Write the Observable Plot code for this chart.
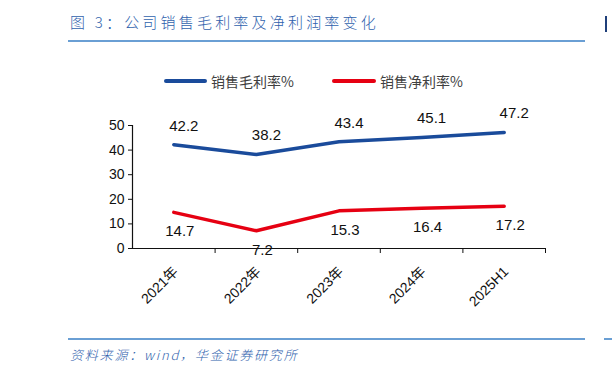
<!DOCTYPE html>
<html><head><meta charset="utf-8">
<script src="https://cdn.jsdelivr.net/npm/d3@7"></script>
<script src="https://cdn.jsdelivr.net/npm/@observablehq/plot@0.6"></script>
<style>
body{margin:0;background:#fff;width:612px;height:375px;position:relative;overflow:hidden;font-family:"Liberation Sans",Arial,sans-serif;}
.abs{position:absolute;}
#title{left:70px;top:11px;font-family:"Noto Sans CJK SC",sans-serif;font-weight:300;font-size:15px;color:#2f62ad;letter-spacing:3.2px;white-space:nowrap;}
#tline{left:68px;top:40px;width:517px;height:2px;background:#6a9fd4;}
#bline{left:68px;top:338px;width:517px;height:2px;background:#6a9fd4;}
#caption{left:70px;top:345px;font-family:"Noto Sans CJK SC",sans-serif;font-weight:300;font-size:13px;color:#2f62ad;font-style:italic;letter-spacing:1.8px;white-space:nowrap;}
.lg{font-family:"Noto Sans CJK SC",sans-serif;font-size:14px;color:#404040;white-space:nowrap;}
.sw{height:4px;border-radius:2px;}
#chart{left:0;top:95px;}
</style></head>
<body>
<div id="title" class="abs">图 3：公司销售毛利率及净利润率变化</div>
<div id="tline" class="abs"></div>
<div class="abs" style="left:605px;top:16px;width:2px;height:16px;background:#1f3f7a"></div>
<div class="abs" style="left:604px;top:338px;width:8px;height:2px;background:#6a9fd4"></div>
<div class="abs sw" style="left:164px;top:79px;width:43px;background:#1a4b9b"></div>
<div class="abs lg" style="left:211px;top:71px">销售毛利率%</div>
<div class="abs sw" style="left:332px;top:79px;width:44px;background:#e60012"></div>
<div class="abs lg" style="left:380px;top:71px">销售净利率%</div>
<div id="chart" class="abs"></div>
<div id="bline" class="abs"></div>
<div id="caption" class="abs">资料来源：wind，华金证券研究所</div>
<script>
const categories = ["2021年","2022年","2023年","2024年","2025H1"];
const grossMargin = [42.2, 38.2, 43.4, 45.1, 47.2];
const netMargin = [14.7, 7.2, 15.3, 16.4, 17.2];
const yTicks = [0,10,20,30,40,50];

const gross = categories.map((c,i)=>({i, v: grossMargin[i]}));
const net = categories.map((c,i)=>({i, v: netMargin[i]}));
const idx = categories.map((c,i)=>i);
const bounds = categories.map((c,i)=>i+0.5);

const chart = Plot.plot({
  width: 612, height: 235,
  marginTop: 30, marginBottom: 82, marginLeft: 132, marginRight: 67,
  style: {fontFamily: '"Liberation Sans", Arial, sans-serif', color: "#111", background: "transparent"},
  x: {type: "linear", domain: [-0.5, categories.length - 0.5]},
  y: {domain: [0, 50]},
  marks: [
    Plot.axisY({ticks: yTicks, tickSize: 4, tickFormat: d=>d, fontSize: 14, tickPadding: 4, label: null}),
    Plot.ruleX([-0.5], {y1: 0, y2: 50, stroke: "#111", strokeWidth: 1.2}),
    Plot.ruleY([0], {stroke: "#111", strokeWidth: 1.2}),
    Plot.axisX({ticks: bounds, tickSize: 5, tickFormat: () => "", label: null}),
    Plot.axisX({ticks: idx, tickSize: 0, tickFormat: i => categories[i], tickRotate: -45, fontSize: 14, fontFamily: '"Liberation Sans", "Noto Sans CJK SC", sans-serif', dy: 9, dx: 2, label: null}),
    Plot.line(gross, {x: "i", y: "v", stroke: "#1a4b9b", strokeWidth: 3.5}),
    Plot.line(net, {x: "i", y: "v", stroke: "#e60012", strokeWidth: 3.5}),
    Plot.text(gross, {x: "i", y: "v", text: d=>d.v.toFixed(1), dy: -19, dx: 10, fontSize: 15, fill: "#111"}),
    Plot.text(net, {x: "i", y: "v", text: d=>d.v.toFixed(1), dy: 19, dx: 6, fontSize: 15, fill: "#111"})
  ]
});
document.getElementById("chart").appendChild(chart);
</script>
</body></html>
